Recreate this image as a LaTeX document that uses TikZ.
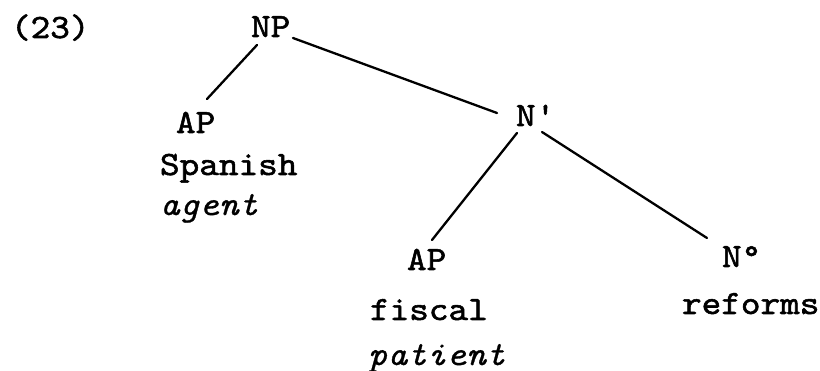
\documentclass[tikz,border=0pt]{standalone}
\usepackage{fontspec}
\setmonofont{lmmono10-regular.otf}[ItalicFont=lmmono10-italic.otf, FakeStretch=1.1, UprightFeatures={FakeBold=1.6}, ItalicFeatures={FakeBold=0.8}]
\usetikzlibrary{calc}
\tikzset{
  lbl/.style={anchor=base west, inner sep=0pt, outer sep=0pt, font=\ttfamily\fontsize{34}{40}\selectfont},
  edge/.style={line width=2.3pt, line cap=round, black}
}
\begin{document}
\begin{tikzpicture}[x=1pt,y=-1pt]
\useasboundingbox (0,0) rectangle (820,371);
\node[lbl] (num) at (11,38) {(23)};
\node[lbl] (NP) at (251,37) {NP};
\node[lbl] (AP1) at (176,133) {AP};
\node[lbl] (spanish) at (160,175) {Spanish};
\node[lbl] (agent) at (160,215) {\itshape agent};
\node[lbl] (Nbar) at (516,126) {N'};
\node[lbl] (AP2) at (407,270) {AP};
\node[lbl] (fiscal) at (370,320) {fiscal};
\node[lbl] (patient) at (368,365) {\itshape patient};
\node[lbl] (N0) at (722,267) {N°};
\node[lbl] (reforms) at (682,314) {reforms};
\draw[edge] ($(NP.base west)+(6,8)$) -- ($(AP1.base west)+(31,-34)$);
\draw[edge] ($(NP.base west)+(42,1)$) -- ($(Nbar.base west)+(-19,-13)$);
\draw[edge] ($(Nbar.base west)+(1,7)$) -- ($(AP2.base west)+(25,-30)$);
\draw[edge] ($(Nbar.base west)+(26,6)$) -- ($(N0.base west)+(-15,-29)$);
\end{tikzpicture}
\end{document}
